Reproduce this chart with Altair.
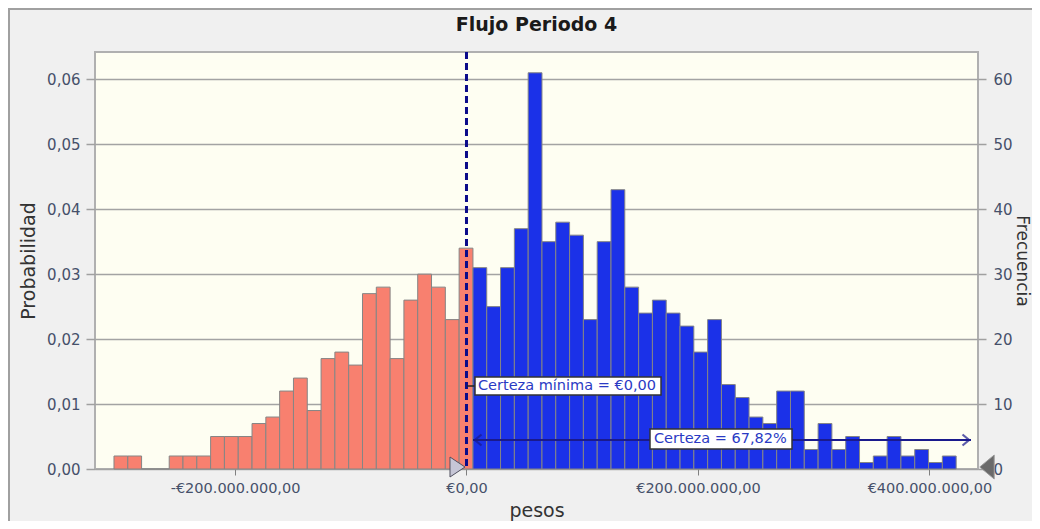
import altair as alt
import pandas as pd

# ---------------- data ----------------
titulo = "Flujo Periodo 4"
n_trials = 1000
bin_start = -304.6e6          # left edge of the first bin (pesos)
bin_width = 11.93e6           # width of one bin (pesos)

# frequencies of the bins left of / straddling the certainty minimum (red)
counts_red = [2, 2, 0, 0, 2, 2, 2, 5, 5, 5, 7, 8, 12, 14, 9, 17, 18, 16,
              27, 28, 17, 26, 30, 28, 23, 34]
# frequencies of the bins inside the certainty range (blue)
counts_blue = [31, 25, 31, 37, 61, 35, 38, 36, 23, 35, 43, 28, 24, 26, 24,
               22, 18, 23, 13, 11, 8, 7, 12, 12, 3, 7, 3, 5, 1, 2, 5, 2, 3, 1, 2]

cert_min = [0.0]
cert_min_label = "Certeza mínima = €0,00"
cert_label = "Certeza = 67,82%"

x_ticks = [-200e6, 0.0, 200e6, 400e6]
x_tick_labels = ["-€200.000.000,00", "€0,00", "€200.000.000,00", "€400.000.000,00"]
y_ticks = [0.0, 0.01, 0.02, 0.03, 0.04, 0.05, 0.06]
y_tick_labels = ["0,00", "0,01", "0,02", "0,03", "0,04", "0,05", "0,06"]
f_ticks = [0, 10, 20, 30, 40, 50, 60]

x_domain = [-321e6, 442e6]
y_max_prob = 0.0642
y_max_freq = 64.2

# ---------------- build table ----------------
counts = counts_red + counts_blue
groups = ["fuera"] * len(counts_red) + ["dentro"] * len(counts_blue)
rows = []
for i, (c, g) in enumerate(zip(counts, groups)):
    s = bin_start + i * bin_width
    rows.append({"start": s, "end": s + bin_width, "count": c,
                 "prob": c / n_trials, "grupo": g})
df = pd.DataFrame(rows)


def label_expr(values, labels, tol):
    expr = "''"
    for v, l in reversed(list(zip(values, labels))):
        expr = f"abs(datum.value - ({v})) < {tol} ? '{l}' : ({expr})"
    return expr


FONT = "DejaVu Sans"
LABEL_COLOR = "#46506a"
TITLE_COLOR = "#333333"
W, H = 883, 417

x_enc = alt.X("start:Q",
              scale=alt.Scale(domain=x_domain, nice=False, zero=False),
              axis=alt.Axis(values=x_ticks,
                            labelExpr=label_expr(x_ticks, x_tick_labels, 1),
                            title="pesos", grid=False, domain=False,
                            tickSize=6, tickColor="#808080", tickWidth=1,
                            labelPadding=6, labelFont=FONT, labelFontSize=14.5,
                            labelColor=LABEL_COLOR, titleFont=FONT,
                            titleFontSize=19, titleFontWeight="normal",
                            titleColor=TITLE_COLOR, titlePadding=7,
                            labelFlush=False, labelOverlap=False))

bars = alt.Chart(df).mark_rect(stroke="#858585", strokeWidth=1).encode(
    x=x_enc,
    x2="end:Q",
    y=alt.Y("prob:Q",
            scale=alt.Scale(domain=[0, y_max_prob], nice=False, zero=True),
            axis=alt.Axis(orient="left", values=y_ticks,
                          labelExpr=label_expr(y_ticks, y_tick_labels, 1e-6),
                          title="Probabilidad", grid=True, gridColor="#a3a3a3",
                          gridWidth=1.5, domain=False, tickSize=9,
                          tickColor="#a0a0a0", tickWidth=1.5, labelPadding=6,
                          labelFont=FONT, labelFontSize=15,
                          labelColor=LABEL_COLOR, titleFont=FONT,
                          titleFontSize=19, titleFontWeight="normal",
                          titleColor=TITLE_COLOR, titlePadding=8)),
    y2=alt.datum(0),
    color=alt.Color("grupo:N",
                    scale=alt.Scale(domain=["fuera", "dentro"],
                                    range=["#f8806f", "#1b31e8"]),
                    legend=None),
)

freq_axis = alt.Chart(df).mark_rect(opacity=0).encode(
    x="start:Q",
    x2="end:Q",
    y=alt.Y("count:Q",
            scale=alt.Scale(domain=[0, y_max_freq], nice=False, zero=True),
            axis=alt.Axis(orient="right", values=f_ticks, format="d",
                          title="Frecuencia", grid=False, domain=False,
                          tickSize=8, tickColor="#a0a0a0", tickWidth=1.5,
                          labelPadding=7, labelFont=FONT, labelFontSize=15,
                          labelColor=LABEL_COLOR, titleFont=FONT,
                          titleFontSize=17, titleFontWeight="normal",
                          titleColor=TITLE_COLOR, titleAngle=90,
                          titleX=43, titleY=H / 2, titleAlign="center",
                          titleBaseline="middle")),
    y2=alt.datum(0),
)

cm = pd.DataFrame({"v": cert_min})

dashed = alt.Chart(cm).mark_rule(color="#0b0b8a", strokeWidth=3,
                                 strokeDash=[7, 4]).encode(x="v:Q")

# certainty-minimum label with connector
conn1 = alt.Chart(cm).mark_rule(color="#222222", strokeWidth=1.5).encode(
    x=alt.value(372), x2=alt.value(380), y=alt.value(334))
box1 = alt.Chart(cm).mark_rect(fill="white", stroke="#333333",
                               strokeWidth=1.5).encode(
    x=alt.value(380), x2=alt.value(566), y=alt.value(325), y2=alt.value(343))
txt1 = alt.Chart(pd.DataFrame({"t": [cert_min_label]})).mark_text(
    align="left", baseline="middle", font=FONT, fontSize=14.5,
    color="#2a3ac4").encode(x=alt.value(383), y=alt.value(334), text="t:N")

# certainty range arrow
arrow = alt.Chart(cm).mark_rule(color="#1a1a8c", strokeWidth=2).encode(
    x=alt.value(378), x2=alt.value(876), y=alt.value(388))
head_l = alt.Chart(cm).mark_point(shape="M1,-1L-0.2,0L1,1", filled=False,
                                  stroke="#1a1a8c", strokeWidth=2.2,
                                  size=120).encode(
    x=alt.value(381), y=alt.value(388))
head_r = alt.Chart(cm).mark_point(shape="M-1,-1L0.2,0L-1,1", filled=False,
                                  stroke="#1a1a8c", strokeWidth=2.2,
                                  size=120).encode(
    x=alt.value(873), y=alt.value(388))
box2 = alt.Chart(cm).mark_rect(fill="white", stroke="#333333",
                               strokeWidth=1.5).encode(
    x=alt.value(555), x2=alt.value(697), y=alt.value(377), y2=alt.value(397))
txt2 = alt.Chart(pd.DataFrame({"t": [cert_label]})).mark_text(
    align="left", baseline="middle", font=FONT, fontSize=14.5,
    color="#2a3ac4").encode(x=alt.value(559), y=alt.value(387), text="t:N")

# certainty grabbers (triangles)
tri_l = alt.Chart(cm).mark_point(shape="M-0.75,-1L0.75,0L-0.75,1Z",
                                 filled=True, fill="#c6c6d6",
                                 stroke="#505060", strokeWidth=1,
                                 size=400, opacity=1, xOffset=-9).encode(
    x="v:Q", y=alt.value(415))
tri_r = alt.Chart(cm).mark_point(shape="M0.6,-1L-0.6,0L0.6,1Z",
                                 filled=True, fill="#6a6a6a",
                                 stroke="#9a9a9a", strokeWidth=1,
                                 size=576, opacity=1).encode(
    x=alt.value(892), y=alt.value(415))

# title and outer frame
title = alt.Chart(pd.DataFrame({"t": [titulo]})).mark_text(
    font=FONT, fontSize=19, fontWeight="bold", color="#1a1a1a",
    baseline="middle", align="center").encode(
    x=alt.value(W / 2), y=alt.value(-27), text="t:N")
frame_top = alt.Chart(cm).mark_rule(color="#a0a0a0", strokeWidth=2).encode(
    x=alt.value(-87), x2=alt.value(W + 54), y=alt.value(-43))
frame_left = alt.Chart(cm).mark_rule(color="#a0a0a0", strokeWidth=2).encode(
    x=alt.value(-86), y=alt.value(-43), y2=alt.value(H + 60))

chart = alt.layer(
    bars, freq_axis, dashed, conn1, box1, txt1, arrow, box2, txt2,
    head_l, head_r, tri_l, tri_r, title, frame_top, frame_left
).resolve_scale(y="independent").properties(
    width=W, height=H,
    autosize=alt.AutoSizeParams(type="none"),
    padding={"left": 87, "top": 44, "right": 54, "bottom": 52},
    background="#f0f0f0",
).configure_view(fill="#fefef2", stroke="#b0b0b0", strokeWidth=2)

chart.save("out.html", embed_options={"renderer": "svg", "actions": False})
